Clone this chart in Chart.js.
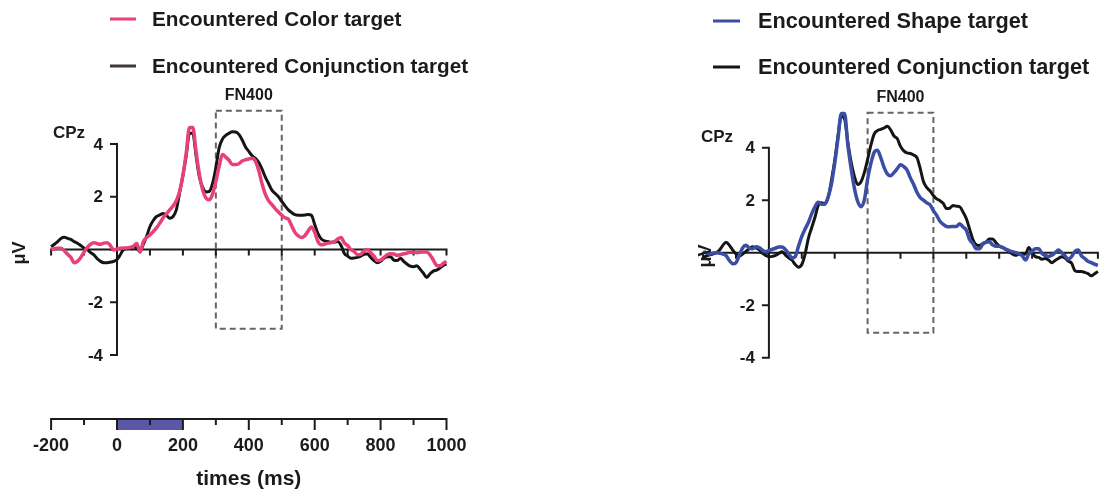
<!DOCTYPE html>
<html>
<head>
<meta charset="utf-8">
<script src="https://cdn.jsdelivr.net/npm/chart.js@4.4.1/dist/chart.umd.min.js"></script>
<style>
  html, body { margin: 0; padding: 0; background: #ffffff; }
  #wrap { position: relative; width: 1101px; height: 495px; overflow: hidden; background: #ffffff; }
  #wrap canvas { position: absolute; top: 0; }
  #left { left: 0; }
  #right { left: 560px; }
</style>
</head>
<body>
<div id="wrap">
  <canvas id="left" width="560" height="495"></canvas>
  <canvas id="right" width="541" height="495"></canvas>
</div>
<script>
// Sample times (ms) of the grand-average ERP at electrode CPz
const TIMES = [
  -200, -190, -180, -170, -160, -150, -140, -130, -120, -110,
  -100, -90, -80, -70, -60, -50, -40, -30, -20, -10,
  0, 10, 20, 30, 40, 50, 60, 70, 80, 90,
  100, 110, 120, 130, 140, 150, 160, 170, 180, 190,
  200, 210, 220, 230, 240, 250, 260, 270, 280, 290,
  300, 310, 320, 330, 340, 350, 360, 370, 380, 390,
  400, 410, 420, 430, 440, 450, 460, 470, 480, 490,
  500, 510, 520, 530, 540, 550, 560, 570, 580, 590,
  600, 610, 620, 630, 640, 650, 660, 670, 680, 690,
  700, 710, 720, 730, 740, 750, 760, 770, 780, 790,
  800, 810, 820, 830, 840, 850, 860, 870, 880, 890,
  900, 910, 920, 930, 940, 950, 960, 970, 980, 990,
  1000
];

// Left panel: colour vs conjunction targets (μV)
const COLOR_TARGET = [
  0.00, 0.03, 0.05, 0.05, -0.05, -0.18, -0.30, -0.50, -0.45, -0.30,
  -0.10, 0.08, 0.20, 0.26, 0.22, 0.20, 0.24, 0.26, 0.15, -0.02,
  0.02, 0.05, 0.06, 0.06, 0.08, 0.12, 0.23, -0.10, 0.30, 0.45,
  0.55, 0.68, 0.82, 1.00, 1.20, 1.35, 1.50, 1.65, 1.85, 2.20,
  2.80, 3.65, 4.62, 4.62, 3.70, 2.85, 2.25, 1.95, 1.88, 2.10,
  2.58, 3.15, 3.60, 3.50, 3.38, 3.22, 3.22, 3.25, 3.35, 3.40,
  3.43, 3.46, 3.35, 3.00, 2.50, 2.10, 1.85, 1.70, 1.55, 1.42,
  1.30, 1.20, 1.15, 0.90, 0.65, 0.52, 0.45, 0.52, 0.70, 0.85,
  0.65, 0.30, 0.18, 0.20, 0.24, 0.26, 0.30, 0.40, 0.45, 0.25,
  0.15, 0.00, -0.08, -0.20, -0.18, -0.05, 0.00, -0.12, -0.25, -0.42,
  -0.40, -0.30, -0.20, -0.16, -0.17, -0.22, -0.20, -0.16, -0.14, -0.10,
  -0.10, -0.12, -0.10, -0.09, -0.10, -0.20, -0.40, -0.60, -0.62, -0.53,
  -0.45
];
const CONJ_TARGET_L = [
  0.10, 0.20, 0.30, 0.42, 0.46, 0.42, 0.38, 0.30, 0.24, 0.15,
  0.06, 0.00, -0.12, -0.20, -0.35, -0.45, -0.50, -0.50, -0.48, -0.45,
  -0.38, -0.20, 0.00, 0.03, 0.05, 0.10, 0.05, -0.08, 0.20, 0.50,
  0.87, 1.10, 1.25, 1.31, 1.36, 1.30, 1.18, 1.25, 1.50, 2.15,
  2.80, 3.55, 4.40, 4.40, 3.55, 2.75, 2.35, 2.18, 2.20, 2.50,
  3.10, 3.85, 4.18, 4.32, 4.40, 4.46, 4.45, 4.36, 4.15, 3.88,
  3.72, 3.55, 3.45, 3.30, 3.05, 2.75, 2.50, 2.25, 2.12, 2.00,
  1.82, 1.65, 1.50, 1.40, 1.32, 1.30, 1.30, 1.31, 1.33, 1.30,
  0.95, 0.60, 0.40, 0.33, 0.30, 0.27, 0.28, 0.30, 0.15, -0.15,
  -0.25, -0.33, -0.32, -0.30, -0.25, -0.18, -0.16, -0.30, -0.42, -0.50,
  -0.45, -0.33, -0.28, -0.27, -0.40, -0.42, -0.33, -0.45, -0.55, -0.63,
  -0.65, -0.62, -0.75, -0.90, -1.06, -0.92, -0.82, -0.78, -0.70, -0.60,
  -0.55
];

// Right panel: shape vs conjunction targets (μV)
const SHAPE_TARGET = [
  0.04, 0.00, -0.05, -0.02, 0.00, -0.02, -0.05, -0.12, -0.30, -0.42,
  -0.38, -0.10, 0.18, 0.28, 0.18, 0.15, 0.23, 0.20, 0.10, 0.04,
  0.08, 0.13, 0.17, 0.22, 0.22, 0.12, -0.03, -0.20, -0.15, 0.25,
  0.62, 0.90, 1.15, 1.48, 1.75, 1.92, 1.85, 1.85, 2.12, 2.60,
  3.40, 4.35, 5.30, 5.30, 4.10, 3.20, 2.45, 1.95, 1.75, 2.00,
  2.80, 3.40, 3.82, 3.90, 3.62, 3.25, 3.00, 2.93, 3.05, 3.20,
  3.35, 3.28, 3.15, 2.85, 2.60, 2.30, 2.10, 2.00, 1.90, 1.82,
  1.60, 1.42, 1.20, 1.08, 1.00, 0.99, 1.00, 1.00, 1.10, 0.98,
  0.86, 0.50, 0.35, 0.15, 0.15, 0.32, 0.40, 0.42, 0.30, 0.25,
  0.25, 0.20, 0.14, 0.08, 0.04, 0.00, -0.04, -0.12, -0.28, -0.05,
  0.05, 0.15, 0.15, -0.03, -0.10, -0.14, -0.10, 0.00, 0.10, 0.00,
  -0.12, -0.25, -0.15, 0.05, 0.10, -0.12, -0.22, -0.33, -0.38, -0.44,
  -0.48
];
const CONJ_TARGET_R = [
  -0.20, -0.12, -0.08, -0.05, 0.00, 0.10, 0.28, 0.40, 0.28, 0.10,
  -0.05, -0.13, -0.05, 0.05, 0.15, 0.23, 0.18, 0.12, -0.02, -0.10,
  -0.15, -0.14, -0.10, -0.03, 0.04, -0.08, -0.20, -0.28, -0.45, -0.55,
  -0.45, -0.05, 0.55, 0.95, 1.35, 1.80, 1.90, 1.88, 2.10, 2.75,
  3.50, 4.45, 5.20, 5.10, 4.20, 3.45, 2.90, 2.60, 2.70, 3.05,
  3.55, 4.10, 4.52, 4.65, 4.70, 4.75, 4.82, 4.68, 4.45, 4.35,
  4.05, 3.88, 3.80, 3.78, 3.72, 3.62, 3.20, 2.70, 2.48, 2.35,
  2.18, 2.05, 1.98, 1.88, 1.68, 1.70, 1.80, 1.77, 1.75, 1.55,
  1.30, 0.90, 0.50, 0.30, 0.27, 0.35, 0.40, 0.52, 0.52, 0.38,
  0.25, 0.20, 0.12, 0.05, -0.05, -0.10, -0.05, -0.06, -0.05, 0.20,
  0.00, -0.15, -0.18, -0.25, -0.22, -0.28, -0.38, -0.30, -0.22, -0.15,
  -0.20, -0.32, -0.40, -0.68, -0.72, -0.72, -0.75, -0.80, -0.88, -0.80,
  -0.72
];

// Axis ticks and annotations
const X_TICKS = [-200, -100, 0, 100, 200, 300, 400, 500, 600, 700, 800, 900, 1000];
const X_TICK_LABELS = ['-200', '0', '200', '400', '600', '800', '1000'];
const X_LABEL_VALUES = [-200, 0, 200, 400, 600, 800, 1000];
const Y_TICKS = [-4, -2, 0, 2, 4];
const Y_TICK_LABELS = ['-4', '-2', '', '2', '4'];
const STIMULUS = [0, 200];          // stimulus on screen (ms)
const FN400_WINDOW = [300, 500];    // analysis window (ms)
const FN400_RANGE_L = [-3.0, 5.26]; // μV extent of the window frame
const FN400_RANGE_R = [-3.05, 5.33];

const FONT = '"Liberation Sans", Arial, Helvetica, sans-serif';
const INK = '#1b1b1b';
const PINK = '#e8407c';
const BLUE = '#3a4ea6';
const BLACK = '#151515';
const FRAME = '#6b6262';
const STIM_FILL = '#5a58a6';

function series(values) {
  return TIMES.map((t, i) => ({ x: t, y: values[i] }));
}

function lineSet(label, values, color, width, order) {
  return {
    label: label,
    data: series(values),
    borderColor: color,
    backgroundColor: color,
    borderWidth: width,
    pointRadius: 0,
    cubicInterpolationMode: 'monotone',
    clip: false,
    order: order
  };
}

function panelDecor(cfg) {
  return {
    id: 'decor',
    beforeDatasetsDraw(chart) {
      const ctx = chart.ctx;
      const x = chart.scales.x, y = chart.scales.y;
      ctx.save();

      // FN400 window frame
      ctx.strokeStyle = FRAME;
      ctx.lineWidth = 2;
      ctx.setLineDash([6, 4]);
      const bx0 = x.getPixelForValue(FN400_WINDOW[0]);
      const bx1 = x.getPixelForValue(FN400_WINDOW[1]);
      const byTop = y.getPixelForValue(cfg.frame[1]);
      const byBot = y.getPixelForValue(cfg.frame[0]);
      ctx.strokeRect(bx0, byTop, bx1 - bx0, byBot - byTop);
      ctx.setLineDash([]);

      // time axis along 0 μV
      ctx.strokeStyle = INK;
      ctx.lineWidth = 2;
      const y0 = y.getPixelForValue(0);
      ctx.beginPath();
      ctx.moveTo(x.getPixelForValue(X_TICKS[0]) - 1, y0);
      ctx.lineTo(x.getPixelForValue(X_TICKS[X_TICKS.length - 1]) + 1, y0);
      X_TICKS.forEach(t => {
        const px = x.getPixelForValue(t);
        ctx.moveTo(px, y0);
        ctx.lineTo(px, y0 + 6);
      });
      ctx.stroke();

      // amplitude axis at 0 ms
      const x0 = x.getPixelForValue(0);
      ctx.beginPath();
      ctx.moveTo(x0, y.getPixelForValue(Y_TICKS[0]) + 1);
      ctx.lineTo(x0, y.getPixelForValue(Y_TICKS[Y_TICKS.length - 1]) - 1);
      Y_TICKS.forEach(v => {
        const py = y.getPixelForValue(v);
        ctx.moveTo(x0, py);
        ctx.lineTo(x0 - 7, py);
      });
      ctx.stroke();

      ctx.fillStyle = INK;
      ctx.font = 'bold 17px ' + FONT;
      ctx.textAlign = 'right';
      ctx.textBaseline = 'middle';
      Y_TICKS.forEach((v, i) => {
        if (Y_TICK_LABELS[i]) ctx.fillText(Y_TICK_LABELS[i], x0 - 14, y.getPixelForValue(v) + 1);
      });

      // stimulus time line underneath the plot
      if (cfg.timeline) {
        const ty = cfg.timeline;
        const s0 = x.getPixelForValue(STIMULUS[0]);
        const s1 = x.getPixelForValue(STIMULUS[1]);
        ctx.fillStyle = STIM_FILL;
        ctx.fillRect(s0, ty, s1 - s0, 11);
        ctx.strokeStyle = INK;
        ctx.lineWidth = 2;
        ctx.beginPath();
        ctx.moveTo(x.getPixelForValue(X_TICKS[0]) - 1, ty);
        ctx.lineTo(x.getPixelForValue(X_TICKS[X_TICKS.length - 1]) + 1, ty);
        X_TICKS.forEach(t => {
          const px = x.getPixelForValue(t);
          const major = X_LABEL_VALUES.indexOf(t) >= 0;
          ctx.moveTo(px, ty);
          ctx.lineTo(px, ty + (major ? 11 : 6));
        });
        ctx.stroke();
        ctx.fillStyle = INK;
        ctx.font = 'bold 18px ' + FONT;
        ctx.textAlign = 'center';
        ctx.textBaseline = 'middle';
        X_LABEL_VALUES.forEach((t, i) => {
          ctx.fillText(X_TICK_LABELS[i], x.getPixelForValue(t), ty + 27);
        });
        ctx.font = 'bold 21px ' + FONT;
        const mid = (x.getPixelForValue(X_TICKS[0]) + x.getPixelForValue(X_TICKS[X_TICKS.length - 1])) / 2;
        ctx.fillText('times (ms)', mid, ty + 60);
      }
      ctx.restore();
    },
    afterDraw(chart) {
      const ctx = chart.ctx;
      const x = chart.scales.x, y = chart.scales.y;
      ctx.save();
      ctx.fillStyle = INK;
      ctx.textBaseline = 'middle';

      // window caption
      ctx.font = 'bold 16px ' + FONT;
      ctx.textAlign = 'center';
      const bx = (x.getPixelForValue(FN400_WINDOW[0]) + x.getPixelForValue(FN400_WINDOW[1])) / 2;
      ctx.fillText('FN400', bx, y.getPixelForValue(cfg.frame[1]) - 15);

      // electrode name
      ctx.font = 'bold 17px ' + FONT;
      ctx.fillText('CPz', cfg.cpz[0], cfg.cpz[1]);

      // unit label
      ctx.save();
      ctx.translate(cfg.unit[0], cfg.unit[1]);
      ctx.rotate(-Math.PI / 2);
      ctx.font = 'bold 18px ' + FONT;
      ctx.fillText('μV', 0, 0);
      ctx.restore();

      // legend
      ctx.textAlign = 'left';
      ctx.font = 'bold ' + cfg.legendSize + 'px ' + FONT;
      chart.data.datasets.forEach((ds, i) => {
        const ly = cfg.legend.rows[i];
        ctx.strokeStyle = cfg.legend.swatch[i];
        ctx.lineWidth = 3;
        ctx.beginPath();
        ctx.moveTo(cfg.legend.x0, ly);
        ctx.lineTo(cfg.legend.x1, ly);
        ctx.stroke();
        ctx.fillStyle = INK;
        ctx.fillText(ds.label, cfg.legend.text, ly + 1);
      });
      ctx.restore();
    }
  };
}

function makePanel(canvasId, sets, padding, cfg) {
  return new Chart(document.getElementById(canvasId), {
    type: 'line',
    data: { datasets: sets },
    options: {
      responsive: false,
      animation: false,
      devicePixelRatio: 1,
      layout: { padding: padding },
      plugins: { legend: { display: false }, tooltip: { enabled: false }, title: { display: false } },
      scales: {
        x: { type: 'linear', min: -200, max: 1000, display: false },
        y: { type: 'linear', min: -4, max: 4, display: false }
      }
    },
    plugins: [panelDecor(cfg)]
  });
}

makePanel('left', [
  lineSet('Encountered Color target', COLOR_TARGET, PINK, 3.5, 0),
  lineSet('Encountered Conjunction target', CONJ_TARGET_L, BLACK, 3, 1)
], { left: 51.1, right: 113.5, top: 143.9, bottom: 139.9 }, {
  frame: FN400_RANGE_L,
  timeline: 419,
  cpz: [69, 133],
  unit: [20, 253],
  legendSize: 20.7,
  legend: { x0: 110, x1: 136, text: 152, rows: [19, 66], swatch: [PINK, '#403838'] }
});

makePanel('right', [
  lineSet('Encountered Shape target', SHAPE_TARGET, BLUE, 3.5, 0),
  lineSet('Encountered Conjunction target', CONJ_TARGET_R, BLACK, 3, 1)
], { left: 143.1, right: 3.1, top: 147.7, bottom: 137.3 }, {
  frame: FN400_RANGE_R,
  timeline: 0,
  cpz: [157, 137],
  unit: [146, 256],
  legendSize: 21.7,
  legend: { x0: 153, x1: 180, text: 198, rows: [21, 67], swatch: [BLUE, BLACK] }
});
</script>
</body>
</html>
